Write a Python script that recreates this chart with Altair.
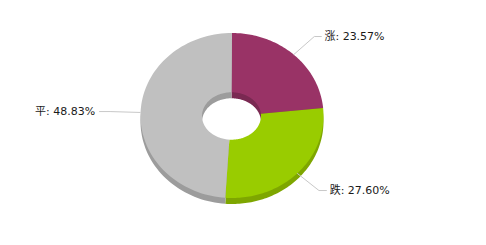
import altair as alt
import pandas as pd

categories = ["涨", "跌", "平"]
values = [23.57, 27.60, 48.83]

top_colors = ["#993366", "#99CC00", "#C0C0C0"]
side_colors = ["#7A2952", "#7EA600", "#9C9C9C"]

df = pd.DataFrame({"cat": categories, "value": values, "order": list(range(len(categories)))})
df["label"] = [f"{c}: {v:.2f}%" for c, v in zip(categories, values)]

W, H = 486, 245
CX, CY, RX, RY = 232, 115.5, 91.5, 82.5
HCX, HCY, HRX, HRY = 231.5, 116, 29.5, 23.7
DEPTH = 6
N = 80

xs = alt.Scale(domain=[0, W], range=[0, W], nice=False, zero=False)
ys = alt.Scale(domain=[0, H], range=[0, H], nice=False, zero=False)

base = alt.Chart(df).transform_joinaggregate(
    total="sum(value)"
).transform_window(
    cum="sum(value)", sort=[alt.SortField("order")], frame=[None, 0]
).transform_calculate(
    a0="2*PI*(datum.cum - datum.value)/datum.total",
    a1="2*PI*datum.cum/datum.total",
    mid="PI*(2*datum.cum - datum.value)/datum.total",
)


def ring(dy, colors):
    return base.transform_calculate(
        idx=f"sequence(0, {2 * N})"
    ).transform_flatten(["idx"]).transform_calculate(
        ang=f"datum.idx < {N} ? datum.a0 + (datum.a1 - datum.a0) * datum.idx / {N - 1} "
            f": datum.a1 - (datum.a1 - datum.a0) * (datum.idx - {N}) / {N - 1}",
    ).transform_calculate(
        px=f"datum.idx < {N} ? {CX} + {RX} * sin(datum.ang) : {HCX} + {HRX} * sin(datum.ang)",
        py=f"(datum.idx < {N} ? {CY} - {RY} * cos(datum.ang) : {HCY} - {HRY} * cos(datum.ang)) + {dy}",
    ).mark_line(filled=True, interpolate="linear").encode(
        x=alt.X("px:Q", scale=xs, axis=None),
        y=alt.Y("py:Q", scale=ys, axis=None),
        color=alt.Color("cat:N", scale=alt.Scale(domain=categories, range=colors), legend=None),
        order=alt.Order("idx:Q"),
    )


shadow = ring(DEPTH, side_colors)
top = ring(0, top_colors)

leaders = base.transform_calculate(
    k="sequence(0, 3)"
).transform_flatten(["k"]).transform_calculate(
    s="sin(datum.mid)", c="cos(datum.mid)"
).transform_calculate(
    px=f"datum.k == 0 ? {CX} + {RX} * datum.s : (datum.k == 1 ? {CX} + 122 * datum.s : {CX} + 133 * datum.s)",
    py=f"datum.k == 0 ? {CY} - {RY} * datum.c : {CY} - 107 * datum.c",
).mark_line(color="#C8C8C8", strokeWidth=1).encode(
    x=alt.X("px:Q", scale=xs, axis=None),
    y=alt.Y("py:Q", scale=ys, axis=None),
    detail="cat:N",
    order=alt.Order("k:Q"),
)

lab = base.transform_calculate(
    s="sin(datum.mid)", c="cos(datum.mid)"
).transform_calculate(
    px=f"{CX} + 137 * datum.s",
    py=f"{CY} - 107 * datum.c",
)

font = "DejaVu Sans, Noto Sans CJK SC, sans-serif"
enc = dict(
    x=alt.X("px:Q", scale=xs, axis=None),
    y=alt.Y("py:Q", scale=ys, axis=None),
    text="label:N",
)
right_labels = lab.transform_filter("datum.s >= 0").mark_text(
    align="left", baseline="middle", font=font, fontSize=11, color="#1a1a1a"
).encode(**enc)
left_labels = lab.transform_filter("datum.s < 0").mark_text(
    align="right", baseline="middle", font=font, fontSize=11, color="#1a1a1a"
).encode(**enc)

chart = alt.layer(shadow, top, leaders, right_labels, left_labels).resolve_scale(
    color="independent"
).properties(
    width=W, height=H, autosize=alt.AutoSizeParams(type="none"), padding=0
).configure_view(stroke=None)

chart.save("out.html", embed_options={"renderer": "svg", "actions": False})
